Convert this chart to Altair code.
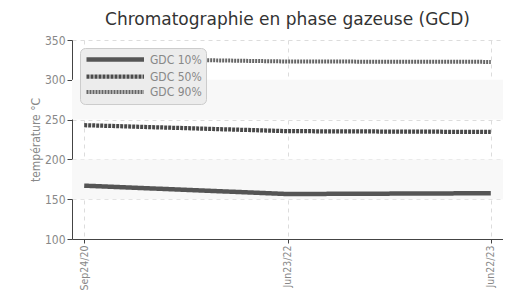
import altair as alt
import pandas as pd

dates = ["Sep24/20", "Jun23/22", "Jun22/23"]
gdc10 = [167, 156.5, 157.5]
gdc50 = [243, 235.5, 234.5]
gdc90 = [327, 323, 322.5]
series = ["GDC 10%", "GDC 50%", "GDC 90%"]
band_lo = [150, 250]
band_hi = [200, 300]

rows = []
for name, vals in zip(series, [gdc10, gdc50, gdc90]):
    for d, v in zip(dates, vals):
        rows.append({"date": d, "value": v, "series": name})
df = pd.DataFrame(rows)
bands = pd.DataFrame({"lo": band_lo, "hi": band_hi})

FONT = "DejaVu Sans Condensed"
W, H = 431, 199

yscale = alt.Scale(domain=[100, 350], nice=False, zero=False)
yaxis = alt.Axis(title="température °C", values=[100, 150, 200, 250, 300, 350],
                 labelOverlap=False,
                 grid=True, gridDash=[4, 4], gridColor="#dcdcdc",
                 domainColor="#444", tickColor="#444", tickSize=5,
                 labelColor="#888", labelFont=FONT, labelFontSize=12,
                 titleFont=FONT, titleFontSize=12, titleColor="#888",
                 titleFontWeight="normal", titlePadding=2)

band = alt.Chart(bands).mark_rect(color="#f8f8f8").encode(
    y=alt.Y("lo:Q", scale=yscale, axis=yaxis),
    y2="hi:Q",
)

lines = alt.Chart(df).mark_line().encode(
    x=alt.X("date:O", sort=dates, scale=alt.Scale(type="point", padding=0.06),
            axis=alt.Axis(title=None, labelAngle=270, grid=True, gridDash=[4, 4],
                          gridColor="#dcdcdc", domainColor="#444", tickColor="#444",
                          tickSize=4, labelColor="#888", labelFont=FONT, labelFontSize=10.5,
                          labelPadding=2)),
    y=alt.Y("value:Q", scale=yscale, axis=yaxis),
    color=alt.Color("series:N", scale=alt.Scale(domain=series, range=["#555555", "#4a4a4a", "#666666"])),
    strokeDash=alt.StrokeDash("series:N", scale=alt.Scale(domain=series, range=[[1, 0], [3, 1], [2, 1]])),
    strokeWidth=alt.StrokeWidth("series:N", scale=alt.Scale(domain=series, range=[4.5, 4, 3])),
)

chart = alt.layer(band, lines).properties(
    width=W, height=H,
    autosize=alt.AutoSizeParams(type="none"),
    padding={"left": 64, "top": 32, "right": 0, "bottom": 51},
    title=alt.Title("Chromatographie en phase gazeuse (GCD)", font="DejaVu Sans",
                    fontSize=17, fontWeight="normal", color="#333", offset=5,
                    anchor="middle"),
).configure_view(stroke=None).configure_axis(
    labelOverlap=False
).configure_legend(
    orient="none", legendX=8, legendY=8, title=None,
    fillColor="#ececec", strokeColor="#cccccc", cornerRadius=5, padding=4,
    symbolType="M-1,0H10.5", symbolSize=100, labelFont=FONT, labelFontSize=12,
    labelColor="#888", rowPadding=-1, labelOffset=51,
)

chart.save("out.html", embed_options={"renderer": "svg", "actions": False})
